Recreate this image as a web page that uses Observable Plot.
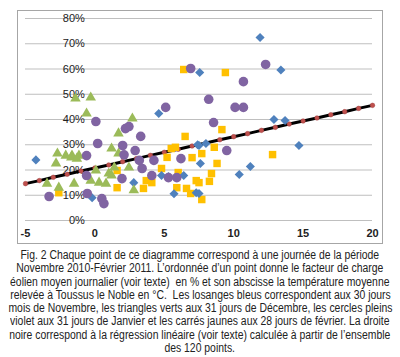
<!DOCTYPE html>
<html>
<head>
<meta charset="utf-8">
<script src="https://cdn.jsdelivr.net/npm/d3@7"></script>
<script src="https://cdn.jsdelivr.net/npm/@observablehq/plot@0.6"></script>
<style>
  body { margin: 0; background: #fff; }
  #caption {
    width: 400px; margin-top: 4px; overflow: hidden;
    font-family: "Liberation Sans", Arial, sans-serif;
    font-size: 12px; line-height: 13.3px; color: #222;
  }
  #caption div { white-space: nowrap; display: flex; justify-content: center; }
  #caption span { display: inline-block; flex: none; transform-origin: 50% 50%; }
</style>
</head>
<body>
<div id="chart"></div>
<div id="caption"></div>
<script>
// Tick labels
const xTicks = [-5, 0, 5, 10, 15, 20];
const yTicks = [0, 10, 20, 30, 40, 50, 60, 70, 80];

// Novembre (losanges bleus): [température °C, facteur de charge %]
const novembre = [
  [-4.25,24],[-0.2,9],[2.8,15],[4.8,17.8],[5.3,17.4],[6.4,17.8],[5.7,10.6],[7.3,11],
  [7.6,22.6],[4.6,42.4],[7.4,30],[8.0,30.5],[7.5,29.7],[7.55,58.6],[11.9,72.5],[13.4,59.6],
  [12.9,40],[13.7,39.6],[14.7,29.7],[10.4,18.2],[11.2,21.4],[7.5,10.7]
];
// Décembre (triangles verts)
const decembre = [
  [-1.4,48.3],[-0.3,48.7],[-0.6,42.4],[1.7,34.5],[1.2,28.5],[2.7,40.4],[-2.1,25.7],[-1.65,25.7],
  [-1.15,25.7],[-2.7,26.5],[-1.7,25],[-1.3,24.5],[-2.8,22.6],[-3.45,14.6],[-1.5,14.6],[-0.3,15.8],
  [0.3,15],[0.8,14.6],[0.07,19.8],[1.2,17.8],[2.45,21],[2.8,12],[-2.6,13],[1.4,21],[1.7,26.5],[1.0,18.6]
];
// Janvier (cercles violets)
const janvier = [
  [0.07,39.2],[2.2,36.4],[0.2,30.5],[-0.6,25.7],[2.1,26],[2.45,37.2],[3.3,33.3],[2.0,29.7],
  [2.9,27.7],[3.2,23.8],[3.4,20.6],[-0.6,17.8],[1.95,16.6],[4.25,23.8],[6.2,24.5],[-3.3,9.5],
  [-0.55,10.7],[0.5,8.7],[0.65,6.7],[4.1,17.8],[5.3,17],[5.9,17],[5.1,44.8],[8.2,48],
  [8.55,38.8],[9.5,27.7],[6.9,60.2],[10.7,55],[12.3,61.8],[10.1,44.8],[10.7,44.8]
];
// Février (carrés jaunes)
const fevrier = [
  [6.4,59.8],[9.4,58.6],[6.5,33.3],[9.15,36],[5.5,28.5],[5.8,29],[7.7,26.5],[8.6,29],
  [5.2,25],[8.8,22.6],[8.4,18.6],[8.25,15.5],[7.5,15],[7.7,8.3],[12.8,26.1],[7.0,24.9],
  [6.0,19],[4.8,20.6],[3.7,15.8],[4.1,15],[3.5,12.7],[7.3,15.8],[5.9,13],[6.6,12.7],
  [6.9,10.7],[1.6,19.8],[1.6,13],[-2.6,11]
];
// Droite de régression
const regX = [-5,-4,-3,-2,-1,0,1,2,3,4,5,6,7,8,9,10,11,12,13,14,15,16,17,18,19,20];
const regY = [14.6,15.8,17.1,18.3,19.6,20.8,22.0,23.3,24.5,25.8,27.0,28.2,29.5,30.7,32.0,33.2,
              34.4,35.7,36.9,38.2,39.4,40.6,41.9,43.1,44.4,45.6];

const captionLines = [
  "Fig. 2 Chaque point de ce diagramme correspond à une journée de la période",
  "Novembre 2010-Février 2011. L’ordonnée d’un point donne le facteur de charge",
  "éolien moyen journalier (voir texte)  en % et son abscisse la température moyenne",
  "relevée à Toussus le Noble en °C.  Les losanges bleus correspondent aux 30 jours",
  "mois de Novembre, les triangles verts aux 31 jours de Décembre, les cercles pleins",
  "violet aux 31 jours de Janvier et les carrés jaunes aux 28 jours de février. La droite",
  "noire correspond à la régression linéaire (voir texte) calculée à partir de l’ensemble",
  "des 120 points."
];

const reg = regX.map((x, i) => ({x, y: regY[i]}));

const chart = Plot.plot({
  width: 400, height: 245,
  marginLeft: 25, marginRight: 28, marginTop: 18, marginBottom: 25,
  x: {domain: [-5, 20], axis: null},
  y: {domain: [0, 80], axis: null},
  style: {fontFamily: "'Liberation Sans', Arial, sans-serif", fontSize: "11px", color: "#222", background: "#fff"},
  marks: [
    Plot.frame({stroke: "#a6a6a6", insetLeft: -8, insetRight: -10, insetTop: -8, insetBottom: -23}),
    Plot.ruleY(yTicks, {stroke: "#bfbfbf"}),
    Plot.text(yTicks, {x: 0, y: d => d, text: d => d + "%", textAnchor: "end", dx: -10, fill: "#222"}),
    Plot.text(xTicks, {x: d => d, y: 0, text: d => String(d), dy: 13, fill: "#222", fontWeight: "bold"}),
    Plot.line(reg, {x: "x", y: "y", stroke: "#000", strokeWidth: 3}),
    Plot.dot(reg, {x: "x", y: "y", r: 2.3, fill: "#c0504d", stroke: "#a04040", strokeWidth: 0.5}),
    Plot.dot(fevrier, {x: d => d[0], y: d => d[1], symbol: "square", r: 4.2, fill: "#ffc000", stroke: "none"}),
    Plot.dot(novembre, {x: d => d[0], y: d => d[1], symbol: "diamond2", r: 4.1, fill: "#4f81bd", stroke: "none"}),
    Plot.dot(decembre, {x: d => d[0], y: d => d[1], symbol: "triangle", r: 3.9, fill: "#9bbb59", stroke: "none"}),
    Plot.dot(janvier, {x: d => d[0], y: d => d[1], r: 4.8, fill: "#8064a2", stroke: "none"})
  ]
});
document.getElementById("chart").append(chart);

const cap = document.getElementById("caption");
const spans = captionLines.map(l => {
  const div = document.createElement("div");
  const span = document.createElement("span");
  span.innerHTML = l.replace(/  /g, " &nbsp;");
  div.append(span);
  cap.append(div);
  return span;
});
// Condense horizontally like the narrow original font: widest line fits 384px
const maxW = Math.max(...spans.map(s => s.getBoundingClientRect().width));
const s = Math.min(1, 384 / maxW);
spans.forEach(sp => { sp.style.transform = `scaleX(${s})`; });
</script>
</body>
</html>
